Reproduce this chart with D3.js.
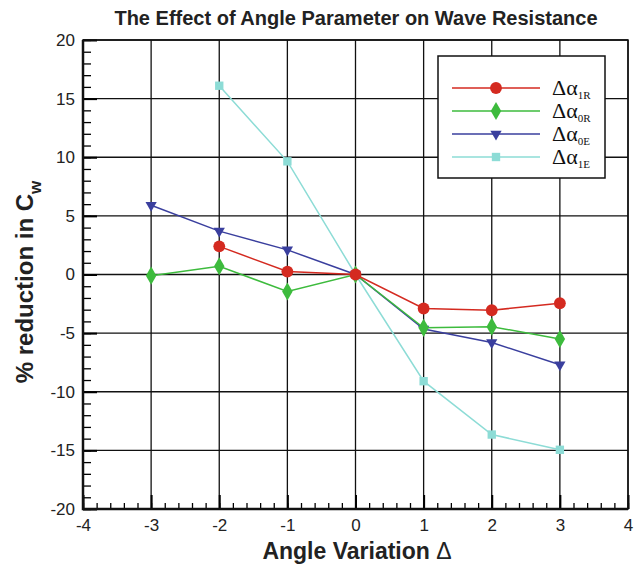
<!DOCTYPE html>
<html>
<head>
<meta charset="utf-8">
<script src="https://d3js.org/d3.v7.min.js"></script>
<style>
body { margin: 0; background: #fff; }
text { font-family: "Liberation Sans", Arial, sans-serif; }
</style>
</head>
<body>
<script>
var angles = [-3, -2, -1, 0, 1, 2, 3];
var a1R = [null, 2.4, 0.25, 0, -2.9, -3.05, -2.45];
var a0R = [-0.1, 0.7, -1.45, 0, -4.55, -4.45, -5.5];
var a0E = [5.9, 3.7, 2.1, 0, -4.65, -5.8, -7.7];
var a1E = [null, 16.1, 9.65, 0, -9.1, -13.65, -14.95];
var xTicks = [-4, -3, -2, -1, 0, 1, 2, 3, 4];
var yTicks = [20, 15, 10, 5, 0, -5, -10, -15, -20];

var series = [
	{sub: "1R", values: a1R, color: "#d42a20", shape: d3.symbolCircle, size: 110},
	{sub: "0R", values: a0R, color: "#3dbb3d", shape: d3.symbolDiamond, size: 95},
	{sub: "0E", values: a0E, color: "#3a3f9e", shape: d3.symbolTriangle, size: 55, flip: true},
	{sub: "1E", values: a1E, color: "#8ddcd6", shape: d3.symbolSquare, size: 70}
];

var margin = {top: 40, right: 10, bottom: 60, left: 83},
	width = 628 - margin.left,
	height = 509 - margin.top;

var x = d3.scaleLinear().domain([-4, 4]).range([0, width]);
var y = d3.scaleLinear().domain([-20, 20]).range([height, 0]);
var fmt = function(d) { return String(d); };

var svg = d3.select("body").append("svg")
	.attr("width", 638)
	.attr("height", 569);

svg.append("text")
	.attr("x", 356).attr("y", 25)
	.attr("text-anchor", "middle")
	.style("font-size", "20px").style("font-weight", "bold").attr("fill", "#222")
	.text("The Effect of Angle Parameter on Wave Resistance");

var g = svg.append("g")
	.attr("transform", "translate(" + margin.left + "," + margin.top + ")");

// grid
g.selectAll(".vgrid")
	.data(xTicks)
	.enter().append("line")
	.attr("x1", function(d) { return x(d); }).attr("x2", function(d) { return x(d); })
	.attr("y1", 0).attr("y2", height)
	.attr("stroke", "#111").attr("stroke-width", 1.3);
g.selectAll(".hgrid")
	.data(yTicks)
	.enter().append("line")
	.attr("y1", function(d) { return y(d); }).attr("y2", function(d) { return y(d); })
	.attr("x1", 0).attr("x2", width)
	.attr("stroke", "#111").attr("stroke-width", 1.3);

// axes with minor ticks inside
var xMinor = d3.range(-4, 4.001, 0.2);
var yMinor = d3.range(-20, 20.001, 1);
g.append("g")
	.attr("transform", "translate(0," + height + ")")
	.call(d3.axisBottom(x).tickValues(xMinor).tickSize(-6).tickFormat(""))
	.call(function(s) { s.select(".domain").remove(); s.selectAll("line").attr("stroke-width", 1.3); });
g.append("g")
	.attr("transform", "translate(0," + height + ")")
	.call(d3.axisBottom(x).tickValues(xTicks).tickSize(-14).tickPadding(10).tickFormat(fmt))
	.call(function(s) {
		s.select(".domain").remove();
		s.selectAll("line").attr("stroke-width", 2);
		s.selectAll("text").style("font-size", "17px").attr("fill", "#222");
	});
g.append("g")
	.call(d3.axisLeft(y).tickValues(yMinor).tickSize(-8).tickFormat(""))
	.call(function(s) { s.select(".domain").remove(); s.selectAll("line").attr("stroke-width", 1.3); });
g.append("g")
	.call(d3.axisLeft(y).tickValues(yTicks).tickSize(-14).tickPadding(8).tickFormat(fmt))
	.call(function(s) {
		s.select(".domain").remove();
		s.selectAll("line").attr("stroke-width", 2);
		s.selectAll("text").style("font-size", "17px").attr("fill", "#222");
	});

// frame
g.append("rect")
	.attr("width", width).attr("height", height)
	.attr("fill", "none").attr("stroke", "#111").attr("stroke-width", 1.5);
g.append("path")
	.attr("d", "M0,0V" + height + "H" + width)
	.attr("fill", "none").attr("stroke", "#111").attr("stroke-width", 2.5);

// series
var line = d3.line()
	.defined(function(d) { return d.v != null; })
	.x(function(d) { return x(d.a); })
	.y(function(d) { return y(d.v); });

series.slice().reverse().forEach(function(s) {
	var pts = angles.map(function(a, i) { return {a: a, v: s.values[i]}; });
	g.append("path")
		.datum(pts)
		.attr("d", line)
		.attr("fill", "none").attr("stroke", s.color).attr("stroke-width", 1.5);
	g.selectAll(null)
		.data(pts.filter(function(d) { return d.v != null; }))
		.enter().append("path")
		.attr("d", d3.symbol().type(s.shape).size(s.size))
		.attr("transform", function(d) { return "translate(" + x(d.a) + "," + y(d.v) + ")" + (s.flip ? " rotate(180)" : ""); })
		.attr("fill", s.color);
});

// legend
var lg = svg.append("g").attr("transform", "translate(438,56)");
lg.append("rect")
	.attr("width", 167).attr("height", 122)
	.attr("fill", "#fff").attr("stroke", "#111").attr("stroke-width", 1.5);
series.forEach(function(s, i) {
	var r = lg.append("g").attr("transform", "translate(0," + (32 + i * 23) + ")");
	r.append("line").attr("x1", 14).attr("x2", 102)
		.attr("stroke", s.color).attr("stroke-width", 1.5);
	r.append("path")
		.attr("d", d3.symbol().type(s.shape).size(s.size))
		.attr("transform", "translate(58,0)" + (s.flip ? " rotate(180)" : ""))
		.attr("fill", s.color);
	var t = r.append("text")
		.attr("x", 114).attr("y", 7)
		.style("font-family", "'Liberation Serif', 'Times New Roman', serif")
		.style("font-size", "22px").attr("fill", "#111");
	t.append("tspan").text("\u0394\u03b1");
	t.append("tspan").attr("dy", 4).style("font-size", "11px").text(s.sub);
});

// axis titles
var xl = svg.append("text")
	.attr("x", 357).attr("y", 559)
	.attr("text-anchor", "middle")
	.style("font-size", "23px").style("font-weight", "bold").attr("fill", "#222");
xl.append("tspan").text("Angle Variation ");
xl.append("tspan").style("font-weight", "normal").text("\u0394");

var yl = svg.append("text")
	.attr("transform", "translate(33,282) rotate(-90)")
	.attr("text-anchor", "middle")
	.style("font-size", "24px").style("font-weight", "bold").attr("fill", "#222");
yl.append("tspan").text("% reduction in C");
yl.append("tspan").attr("dy", 8).style("font-size", "17px").text("w");
</script>
</body>
</html>
